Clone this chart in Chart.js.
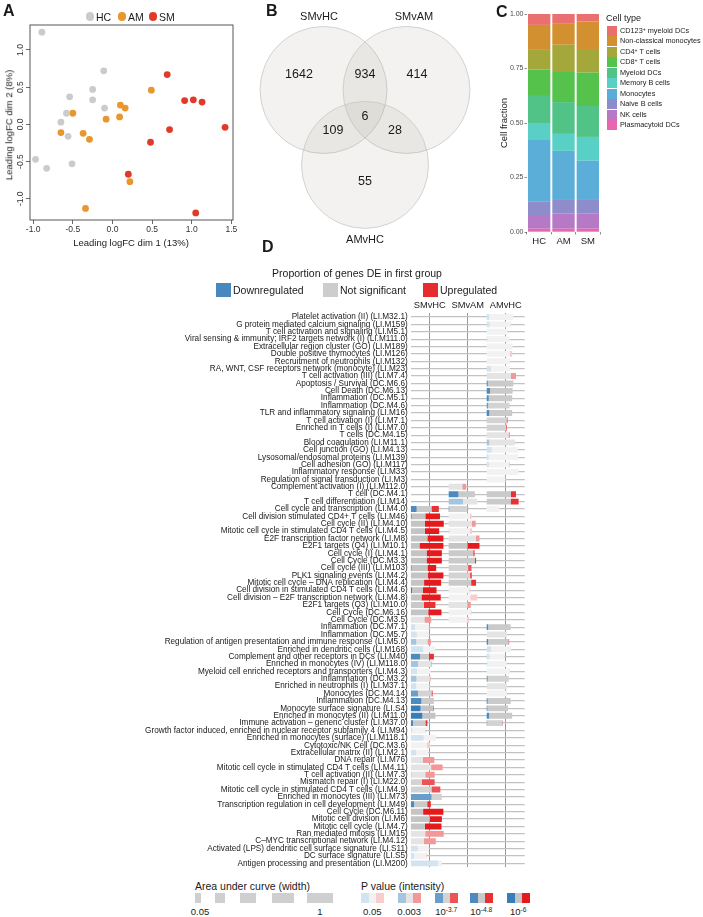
<!DOCTYPE html>
<html>
<head>
<meta charset="utf-8">
<title>Figure</title>
<script src="https://cdn.jsdelivr.net/npm/chart.js@4.4.1/dist/chart.umd.min.js"></script>
<style>
  body { margin: 0; background: #fff; }
  #fig { position: relative; width: 703px; height: 917px; overflow: hidden;
         font-family: "Liberation Sans", Arial, Helvetica, sans-serif; color: #1a1a1a; }
  #fig canvas { position: absolute; }
  .t { position: absolute; white-space: nowrap; line-height: 1; }
  .box { position: absolute; }
  sup { font-size: 70%; vertical-align: 0.45em; line-height: 0; }
</style>
</head>
<body>
<div id="fig">
  <canvas id="chartA" width="245" height="250" style="left:0;top:0"></canvas>
  <canvas id="chartB" width="235" height="250" style="left:255px;top:0"></canvas>
  <canvas id="chartC" width="108" height="250" style="left:495px;top:0"></canvas>
  <canvas id="chartD" width="703" height="580" style="left:0;top:295px"></canvas>
</div>
<script>
// 1. DATA
// Panel A - MDS plot (leading logFC dims)
const hcX = [-0.89, -0.11, -0.25, -0.54, -0.25, -0.10, -0.58, -0.65, -0.56, -0.97, -0.83, -0.51];
const hcY = [1.24, 0.72, 0.47, 0.37, 0.33, 0.22, 0.15, 0.03, -0.16, -0.47, -0.59, -0.53];
const amX = [-0.50, -0.65, -0.37, -0.29, -0.08, 0.10, 0.16, 0.09, 0.49, 0.22, -0.34];
const amY = [0.15, -0.11, -0.12, -0.20, 0.07, 0.26, 0.22, 0.10, 0.46, -0.77, -1.13];
const smX = [0.69, 0.91, 1.02, 1.13, 1.42, 0.72, 0.48, 0.20, 1.05];
const smY = [0.67, 0.32, 0.33, 0.30, -0.04, -0.07, -0.24, -0.67, -1.19];
const mdsXTicks = [-1.0, -0.5, 0, 0.5, 1.0, 1.5];
const mdsYTicks = [-1.0, -0.5, 0, 0.5, 1.0];

// Panel B - Venn counts
const vennSets = ['SMvHC', 'SMvAM', 'AMvHC'];
const vennRegions = ['SMvHC only', 'SMvHC+SMvAM', 'SMvAM only', 'all three', 'SMvHC+AMvHC', 'SMvAM+AMvHC', 'AMvHC only'];
const vennCounts = [1642, 934, 414, 6, 109, 28, 55];

// Panel C - cell fractions (legend order, top of stack first)
const groups = ['HC', 'AM', 'SM'];
const cellTypes = ['CD123<sup>+</sup> myeloid DCs', 'Non-classical monocytes', 'CD4<sup>+</sup> T cells', 'CD8<sup>+</sup> T cells',
  'Myeloid DCs', 'Memory B cells', 'Monocytes', 'Naive B cells', 'NK cells', 'Plasmacytoid DCs'];
const hcFrac = [0.050, 0.111, 0.094, 0.121, 0.124, 0.075, 0.286, 0.061, 0.063, 0.015];
const amFrac = [0.045, 0.096, 0.125, 0.138, 0.146, 0.078, 0.221, 0.067, 0.069, 0.015];
const smFrac = [0.034, 0.131, 0.104, 0.153, 0.142, 0.109, 0.180, 0.061, 0.071, 0.015];
const fracTicks = [0, 0.25, 0.5, 0.75, 1];

// Panel D - modules; each cell = [AUC width, fraction down, fraction up, p-value level 1..5]
const comparisons = ['SMvHC', 'SMvAM', 'AMvHC'];
const modules = [
  'Platelet activation (II) (LI.M32.1)', 'G protein mediated calcium signaling (LI.M159)', 'T cell activation and signaling (LI.M5.1)',
  'Viral sensing & immunity; IRF2 targets network (I) (LI.M111.0)', 'Extracellular region cluster (GO) (LI.M189)',
  'Double positive thymocytes (LI.M126)', 'Recruitment of neutrophils (LI.M132)', 'RA, WNT, CSF receptors network (monocyte) (LI.M23)',
  'T cell activation (III) (LI.M7.4)', 'Apoptosis / Survival (DC.M6.6)', 'Cell Death (DC.M6.13)', 'Inflammation (DC.M5.1)',
  'Inflammation (DC.M4.6)', 'TLR and inflammatory signaling (LI.M16)', 'T cell activation (I) (LI.M7.1)', 'Enriched in T cells (I) (LI.M7.0)',
  'T cells (DC.M4.15)', 'Blood coagulation (LI.M11.1)', 'Cell junction (GO) (LI.M4.13)', 'Lysosomal/endosomal proteins (LI.M139)',
  'Cell adhesion (GO) (LI.M117)', 'Inflammatory response (LI.M33)', 'Regulation of signal transduction (LI.M3)',
  'Complement activation (I) (LI.M112.0)', 'T cell (DC.M4.1)', 'T cell differentiation (LI.M14)', 'Cell cycle and transcription (LI.M4.0)',
  'Cell division stimulated CD4+ T cells (LI.M46)', 'Cell cycle (II) (LI.M4.10)', 'Mitotic cell cycle in stimulated CD4 T cells (LI.M4.5)',
  'E2F transcription factor network (LI.M8)', 'E2F1 targets (Q4) (LI.M10.1)', 'Cell cycle (I) (LI.M4.1)', 'Cell Cycle (DC.M3.3)',
  'Cell cycle (III) (LI.M103)', 'PLK1 signaling events (LI.M4.2)', 'Mitotic cell cycle \u2013 DNA replication (LI.M4.4)',
  'Cell division in stimulated CD4 T cells (LI.M4.6)', 'Cell division \u2013 E2F transcription network (LI.M4.8)', 'E2F1 targets (Q3) (LI.M10.0)',
  'Cell Cycle (DC.M6.16)', 'Cell Cycle (DC.M3.5)', 'Inflammation (DC.M7.1)', 'Inflammation (DC.M5.7)',
  'Regulation of antigen presentation and immune response (LI.M5.0)', 'Enriched in dendritic cells (LI.M168)',
  'Complement and other receptors in DCs (LI.M40)', 'Enriched in monocytes (IV) (LI.M118.0)', 'Myeloid cell enriched receptors and transporters (LI.M4.3)',
  'Inflammation (DC.M3.2)', 'Enriched in neutrophils (I) (LI.M37.1)', 'Monocytes (DC.M4.14)', 'Inflammation (DC.M4.13)',
  'Monocyte surface signature (LI.S4)', 'Enriched in monocytes (II) (LI.M11.0)', 'Immune activation \u2013 generic cluster (LI.M37.0)',
  'Growth factor induced, enriched in nuclear receptor subfamily 4 (LI.M94)', 'Enriched in monocytes (surface) (LI.M118.1)',
  'Cytotoxic/NK Cell (DC.M3.6)', 'Extracellular matrix (II) (LI.M2.1)', 'DNA repair (LI.M76)', 'Mitotic cell cycle in stimulated CD4 T cells (LI.M4.11)',
  'T cell activation (II) (LI.M7.3)', 'Mismatch repair (I) (LI.M22.0)', 'Mitotic cell cycle in stimulated CD4 T cells (LI.M4.9)',
  'Enriched in monocytes (III) (LI.M73)', 'Transcription regulation in cell development (LI.M49)', 'Cell Cycle (DC.M6.11)',
  'Mitotic cell division (LI.M6)', 'Mitotic cell cycle (LI.M4.7)', 'Ran mediated mitosis (LI.M15)', 'C\u2013MYC transcriptional network (LI.M4.12)',
  'Activated (LPS) dendritic cell surface signature (LI.S11)', 'DC surface signature (LI.S5)', 'Antigen processing and presentation (LI.M200)'
];
const _ = null;
const smvhc = [
  _, _, _, _, _, _, _, _, _, _, _, _, _, _, _, _, _, _, _, _, _, _, _, _, _, _,
  [0.74, 0.21, 0.26, 4], [0.77, 0.03, 0.50, 5], [0.87, 0, 0.57, 5], [0.75, 0, 0.50, 5], [0.86, 0, 0.49, 5],
  [0.86, 0, 0.73, 5], [0.82, 0, 0.49, 5], [0.82, 0, 0.49, 5], [0.67, 0.03, 0.34, 5], [0.86, 0, 0.47, 5],
  [0.80, 0, 0.56, 5], [0.68, 0.05, 0.53, 5], [0.79, 0, 0.64, 5], [0.65, 0, 0.47, 4], [0.81, 0, 0.43, 5],
  [0.54, 0, 0.33, 2], [0.49, 0.23, 0.03, 1], [0.48, 0.33, 0, 1], [0.53, 0.27, 0.17, 2], [0.65, 0.50, 0, 1],
  [0.61, 0.40, 0.21, 4], [0.55, 0.35, 0.03, 2], [0.52, 0.32, 0, 1], [0.52, 0.29, 0.03, 2], [0.49, 0.29, 0, 1],
  [0.58, 0.33, 0.06, 3], [0.61, 0.46, 0, 4], [0.60, 0.43, 0.03, 5], [0.65, 0.47, 0, 5], [0.44, 0.14, 0.12, 4],
  [0.39, 0.10, 0.04, 1], [0.67, 0.50, 0, 1], [0.51, 0, 0.17, 1], [0.46, 0.31, 0, 1], [0.62, 0, 0.48, 2],
  [0.84, 0, 0.36, 2], [0.63, 0.03, 0.39, 2], [0.63, 0, 0.53, 3], [0.78, 0, 0.30, 3], [0.82, 0.67, 0, 3],
  [0.53, 0.17, 0.18, 4], [0.86, 0, 0.62, 5], [0.82, 0, 0.39, 5], [0.81, 0, 0.54, 5], [0.87, 0, 0.56, 2],
  [0.66, 0, 0.47, 2], [0.48, 0.38, 0, 1], [0.42, 0.21, 0.04, 1], [0.82, 0.87, 0, 1]
];
const smvam = [
  _, _, _, _, _, _, _, _, _, _, _, _, _, _, _, _, _, _, _, _, _, _, _,
  [0.46, 0, 0.22, 2], [0.69, 0.37, 0, 4], [0.75, 0.50, 0, 2], [0.51, 0.03, 0.03, 3], [0.60, 0, 0.07, 1],
  [0.71, 0, 0.15, 2], [0.61, 0.03, 0.09, 1], [0.81, 0, 0.12, 2], [0.81, 0, 0.39, 5], [0.68, 0, 0.05, 4],
  [0.72, 0, 0.04, 4], [0.60, 0, 0.15, 3], [0.61, 0, 0.08, 3], [0.72, 0, 0.18, 4], [0.57, 0, 0.05, 1],
  [0.75, 0, 0.24, 1], [0.58, 0, 0.15, 2], [0.60, 0, 0.03, 1], [0.54, 0, 0.11, 1],
  _, _, _, _, _, _, _, _, _, _, _, _, _, _, _, _, _, _, _, _, _, _, _, _, _, _, _, _, _, _, _, _, _
];
const amvhc = [
  [0.70, 0.09, 0, 1], [0.63, 0.12, 0, 1], [0.55, 0, 0, 1], [0.60, 0.03, 0, 1], [0.68, 0, 0, 1],
  [0.67, 0, 0.10, 1], [0.61, 0, 0, 1], [0.61, 0.18, 0, 1], [0.77, 0, 0.17, 2], [0.70, 0.04, 0, 4],
  [0.68, 0.13, 0, 4], [0.67, 0.08, 0, 4], [0.60, 0.06, 0, 3], [0.67, 0.10, 0, 4], [0.55, 0, 0.05, 3],
  [0.53, 0, 0.04, 3], [0.61, 0, 0.06, 2], [0.74, 0.09, 0, 2], [0.82, 0.16, 0, 1], [0.83, 0.06, 0, 1],
  [0.61, 0.09, 0.04, 1], [0.84, 0, 0, 1], [0.49, 0, 0, 1], _, [0.77, 0, 0.18, 4],
  [0.84, 0, 0.25, 4], [0.33, 0, 0, 1],
  _, _, _, _, _, _, _, _, _, _, _, _, _, _, _,
  [0.63, 0.06, 0, 4], [0.53, 0, 0, 2], [0.59, 0.06, 0.03, 4], [0.64, 0.18, 0, 1], [0.47, 0.15, 0, 1],
  [0.52, 0.03, 0, 1], [0.61, 0, 0, 1], [0.58, 0.05, 0, 3], [0.53, 0, 0, 2], [0.53, 0, 0, 1],
  [0.63, 0.04, 0, 4], [0.56, 0.03, 0, 4], [0.67, 0.09, 0, 4], [0.42, 0.03, 0.03, 3],
  _, _, _, _, _, _, _, _, _, _, _, _, _, _, _, _, _, _, _
];
const pLevelLabels = ['0.05', '0.003', '10<sup>-3.7</sup>', '10<sup>-4.8</sup>', '10<sup>-6</sup>'];
const aucLegend = ['0.05', '', '', '', '1'];

// 2. STYLE HELPERS
const FONT = '"Liberation Sans", Arial, Helvetica, sans-serif';
Chart.defaults.font.family = FONT;
Chart.defaults.animation = false;
Chart.defaults.events = [];
Chart.defaults.layout.autoPadding = false;
Chart.defaults.plugins.legend.display = false;
Chart.defaults.plugins.tooltip.enabled = false;

const fig = document.getElementById('fig');
function addText(html, x, y, size, opts = {}) {
  const el = document.createElement('div');
  el.className = 't';
  el.innerHTML = html;
  el.style.fontSize = size + 'px';
  el.style.left = x + 'px';
  el.style.top = y + 'px';
  const tx = opts.align === 'center' ? '-50%' : opts.align === 'right' ? '-100%' : '0';
  el.style.transform = `translate(${tx}, -50%)` + (opts.rotate ? ` rotate(${opts.rotate}deg)` : '');
  if (opts.bold) el.style.fontWeight = 'bold';
  if (opts.color) el.style.color = opts.color;
  fig.appendChild(el);
  return el;
}
function addBox(x, y, w, h, color, round) {
  const el = document.createElement('div');
  el.className = 'box';
  Object.assign(el.style, { left: x + 'px', top: y + 'px', width: w + 'px', height: h + 'px', background: color });
  if (round) el.style.borderRadius = '50%';
  fig.appendChild(el);
}

// p-value intensity -> opaque tint of base colour
const levelAlpha = [0.22, 0.45, 0.75, 0.9, 1];
const segRGB = [[55, 126, 184], [196, 196, 196], [228, 26, 28]];
const shade = (rgb, a) => 'rgb(' + rgb.map(v => Math.round(255 - (255 - v) * a)).join(',') + ')';

const groupColors = { HC: '#cbcbcb', AM: '#e9962e', SM: '#e23a2a' };
const cellColors = ['#ea6f6f', '#d39030', '#a4a83a', '#55c24c', '#52c387', '#58d0c5', '#5aaed8', '#8f8ccc', '#b679c5', '#e865b0'];

// 3. PANEL A - MDS SCATTER
const plotBox = {
  id: 'plotBox',
  afterDraw(chart) {
    const a = chart.chartArea, c = chart.ctx;
    c.save(); c.strokeStyle = '#444'; c.lineWidth = 0.9;
    c.strokeRect(a.left, a.top, a.right - a.left, a.bottom - a.top);
    c.restore();
  }
};
// base R style rotated y tick labels
const rotatedYTicks = {
  id: 'rotatedYTicks',
  afterDraw(chart) {
    const s = chart.scales.y, c = chart.ctx;
    c.save(); c.fillStyle = '#333'; c.font = '8.5px ' + FONT;
    c.textAlign = 'center'; c.textBaseline = 'middle';
    s.ticks.forEach(t => {
      c.save(); c.translate(20.5, s.getPixelForValue(t.value)); c.rotate(-Math.PI / 2);
      c.fillText(t.value.toFixed(1), 0, 0); c.restore();
    });
    c.restore();
  }
};
const toPoints = (xs, ys) => xs.map((x, i) => ({ x, y: ys[i] }));
const outerTicks = { drawOnChartArea: false, drawTicks: true, tickLength: 4, color: '#444', lineWidth: 0.8 };

new Chart(document.getElementById('chartA'), {
  type: 'scatter',
  data: {
    datasets: [
      { label: 'HC', data: toPoints(hcX, hcY), backgroundColor: groupColors.HC },
      { label: 'AM', data: toPoints(amX, amY), backgroundColor: groupColors.AM },
      { label: 'SM', data: toPoints(smX, smY), backgroundColor: groupColors.SM }
    ]
  },
  options: {
    responsive: false,
    elements: { point: { radius: 3.4, borderWidth: 0 } },
    layout: { padding: { top: 25, right: 12, left: 0, bottom: 0 } },
    scales: {
      x: {
        type: 'linear', min: -1.04, max: 1.52,
        afterBuildTicks: s => { s.ticks = mdsXTicks.map(v => ({ value: v })); },
        afterFit: s => { s.height = 30; },
        grid: outerTicks, border: { display: false },
        ticks: { color: '#333', font: { size: 8.5 }, padding: 1, maxRotation: 0, callback: v => v.toFixed(1) }
      },
      y: {
        type: 'linear', min: -1.285, max: 1.336,
        afterBuildTicks: s => { s.ticks = mdsYTicks.map(v => ({ value: v })); },
        afterFit: s => { s.width = 30; },
        grid: outerTicks, border: { display: false },
        ticks: { display: false }
      }
    }
  },
  plugins: [plotBox, rotatedYTicks]
});

// 4. PANEL B - VENN DIAGRAM (circles via bubble chart, radius = one x unit)
const vennX = { min: -1.079, max: 2.622 }, vennY = { min: -2.52, max: 1.417 };
const vennCircles = [[0, 0], [1.307, 0], [0.654, -1.18]];
const vennCountPos = [[-0.386, 0.236], [0.654, 0.236], [1.472, 0.236], [0.654, -0.425], [0.15, -0.646], [1.126, -0.646], [0.654, -1.449]];
const vennSetPos = [[-0.07, 1.15], [1.425, 1.15], [0.654, -2.36]];
const vennLabels = {
  id: 'vennLabels',
  afterDatasetsDraw(chart) {
    const { x, y } = chart.scales, c = chart.ctx;
    c.save(); c.fillStyle = '#1a1a1a'; c.textAlign = 'center'; c.textBaseline = 'middle';
    c.font = '12.5px ' + FONT;
    vennCounts.forEach((n, i) => c.fillText(String(n), x.getPixelForValue(vennCountPos[i][0]), y.getPixelForValue(vennCountPos[i][1])));
    c.font = '11px ' + FONT;
    vennSets.forEach((s, i) => c.fillText(s, x.getPixelForValue(vennSetPos[i][0]), y.getPixelForValue(vennSetPos[i][1])));
    c.restore();
  }
};
const vennCanvas = document.getElementById('chartB');
const vennUnitPx = vennCanvas.width / (vennX.max - vennX.min);
new Chart(vennCanvas, {
  type: 'bubble',
  data: {
    datasets: [{
      data: vennCircles.map(p => ({ x: p[0], y: p[1], r: vennUnitPx })),
      backgroundColor: 'rgba(165,155,140,0.13)', borderColor: '#c8c8c8', borderWidth: 0.8
    }]
  },
  options: {
    responsive: false,
    layout: { padding: 0 },
    scales: {
      x: { type: 'linear', display: false, min: vennX.min, max: vennX.max },
      y: { type: 'linear', display: false, min: vennY.min, max: vennY.max }
    }
  },
  plugins: [vennLabels]
});

// 5. PANEL C - STACKED CELL FRACTIONS
const groupFracs = [hcFrac, amFrac, smFrac];
new Chart(document.getElementById('chartC'), {
  type: 'bar',
  data: {
    labels: groups,
    datasets: cellTypes.map((name, k) => ({
      label: name,
      data: groupFracs.map(f => f[k]),
      backgroundColor: cellColors[k],
      barPercentage: 0.92, categoryPercentage: 1, borderWidth: 0
    })).reverse()
  },
  options: {
    responsive: false,
    layout: { padding: { top: 14, right: 3, left: 0, bottom: 0 } },
    scales: {
      x: {
        stacked: true,
        afterFit: s => { s.height = 18; },
        grid: { drawOnChartArea: false, tickLength: 2.5, color: '#444', lineWidth: 0.6 }, border: { display: false },
        ticks: { color: '#1a1a1a', font: { size: 9.5 }, padding: 1 }
      },
      y: {
        stacked: true, min: 0, max: 1,
        afterBuildTicks: s => { s.ticks = fracTicks.map(v => ({ value: v })); },
        afterFit: s => { s.width = 32; },
        grid: { drawOnChartArea: false, tickLength: 2.5, color: '#444', lineWidth: 0.6 }, border: { display: false },
        ticks: { color: '#4d4d4d', font: { size: 7 }, padding: 1, callback: v => v.toFixed(2) }
      }
    }
  }
});

// 6. PANEL D - MODULE PANEL PLOT (floating horizontal bars)
const compCells = [smvhc, smvam, amvhc];
const segNames = ['Downregulated', 'Not significant', 'Upregulated'];
const datasetsD = [];
compCells.forEach((cells, c) => {
  segNames.forEach((seg, s) => {
    datasetsD.push({
      label: comparisons[c] + ' ' + seg,
      data: cells.map(cell => {
        if (!cell) return null;
        const [w, dn, up] = cell;
        const parts = [w * dn, w * (1 - dn - up), w * up];
        const start = c + parts.slice(0, s).reduce((a, b) => a + b, 0);
        return parts[s] > 0 ? [start, start + parts[s]] : null;
      }),
      backgroundColor: cells.map(cell => cell ? shade(segRGB[s], levelAlpha[cell[3] - 1]) : 'transparent'),
      grouped: false, barPercentage: 0.8, categoryPercentage: 1, borderWidth: 0
    });
  });
});
new Chart(document.getElementById('chartD'), {
  type: 'bar',
  data: { labels: modules, datasets: datasetsD },
  options: {
    responsive: false,
    indexAxis: 'y',
    layout: { padding: { top: 0, right: 178.3, left: 0, bottom: 0 } },
    scales: {
      x: {
        type: 'linear', position: 'top', min: 0, max: 3,
        afterBuildTicks: s => { s.ticks = comparisons.map((n, i) => ({ value: i + 0.5 })); },
        afterFit: s => { s.height = 18.3; },
        grid: { color: '#8c8c8c', lineWidth: 0.9, drawTicks: false }, border: { display: false },
        ticks: { color: '#1a1a1a', font: { size: 9.3 }, padding: 2, maxRotation: 0, callback: v => comparisons[Math.floor(v)] }
      },
      y: {
        type: 'category',
        afterFit: s => { s.width = 410.7; },
        grid: { offset: false, color: '#c2c2c2', lineWidth: 1.2, drawTicks: false }, border: { display: false },
        ticks: { autoSkip: false, color: '#1a1a1a', font: { size: 8.2 }, padding: 3 }
      }
    }
  }
});

// 7. TEXT, LEGENDS AND PANEL LETTERS
addText('A', 3, 11, 16, { bold: true });
addText('B', 266, 11, 16, { bold: true });
addText('C', 496, 12, 16, { bold: true });
addText('D', 262, 247, 16, { bold: true });

// A legend + axis titles
const legA = [['HC', 90], ['AM', 122], ['SM', 153]];
legA.forEach(([g, cx]) => {
  addBox(cx - 4.4, 16.7 - 4.4, 8.8, 8.8, groupColors[g], true);
  addText(g, cx + 6, 17, 10.5);
});
addText('Leading logFC dim 1 (13%)', 131, 243, 9.5, { align: 'center' });
addText('Leading logFC dim 2 (8%)', 9, 125, 9.5, { align: 'center', rotate: -90 });

// C legend + axis title
addText('Cell fraction', 504, 123, 9.5, { align: 'center', rotate: -90 });
addText('Cell type', 606, 18, 9);
cellTypes.forEach((name, k) => {
  const cy = 31 + k * 10.45;
  addBox(607, cy - 5, 10, 10, cellColors[k]);
  addText(name, 620, cy, 7.3);
});

// D title and direction legend
addText('Proportion of genes DE in first group', 357, 273, 10.5, { align: 'center' });
const legD = [[216, segRGB[0]], [323, segRGB[1]], [423, segRGB[2]]];
legD.forEach(([x, rgb], s) => {
  addBox(x, 283, 15, 14, shade(rgb, s === 1 ? 0.85 : 0.92));
  addText(segNames[s], x + 17, 290, 10.5);
});

// D bottom legends
addText('Area under curve (width)', 195, 886, 10.5);
const aucBoxX = [195, 215, 240, 272, 307], aucBoxW = [6, 10, 16, 22, 26];
aucBoxX.forEach((x, i) => {
  addBox(x, 893, aucBoxW[i], 10, '#cfcfcf');
  if (aucLegend[i]) addText(aucLegend[i], x + aucBoxW[i] / 2 + (i === 0 ? 2 : 0), 912, 9.5, { align: 'center' });
});
addText('P value (intensity)', 361, 886, 10.5);
const pBoxX = [361, 398, 435, 470, 507];
pBoxX.forEach((x, lvl) => {
  segRGB.forEach((rgb, s) => addBox(x + s * 7.5, 893, 7.5, 10, shade(rgb, levelAlpha[lvl])));
  addText(pLevelLabels[lvl], x + 11.25, 912, 9.5, { align: 'center' });
});
</script>
</body>
</html>
